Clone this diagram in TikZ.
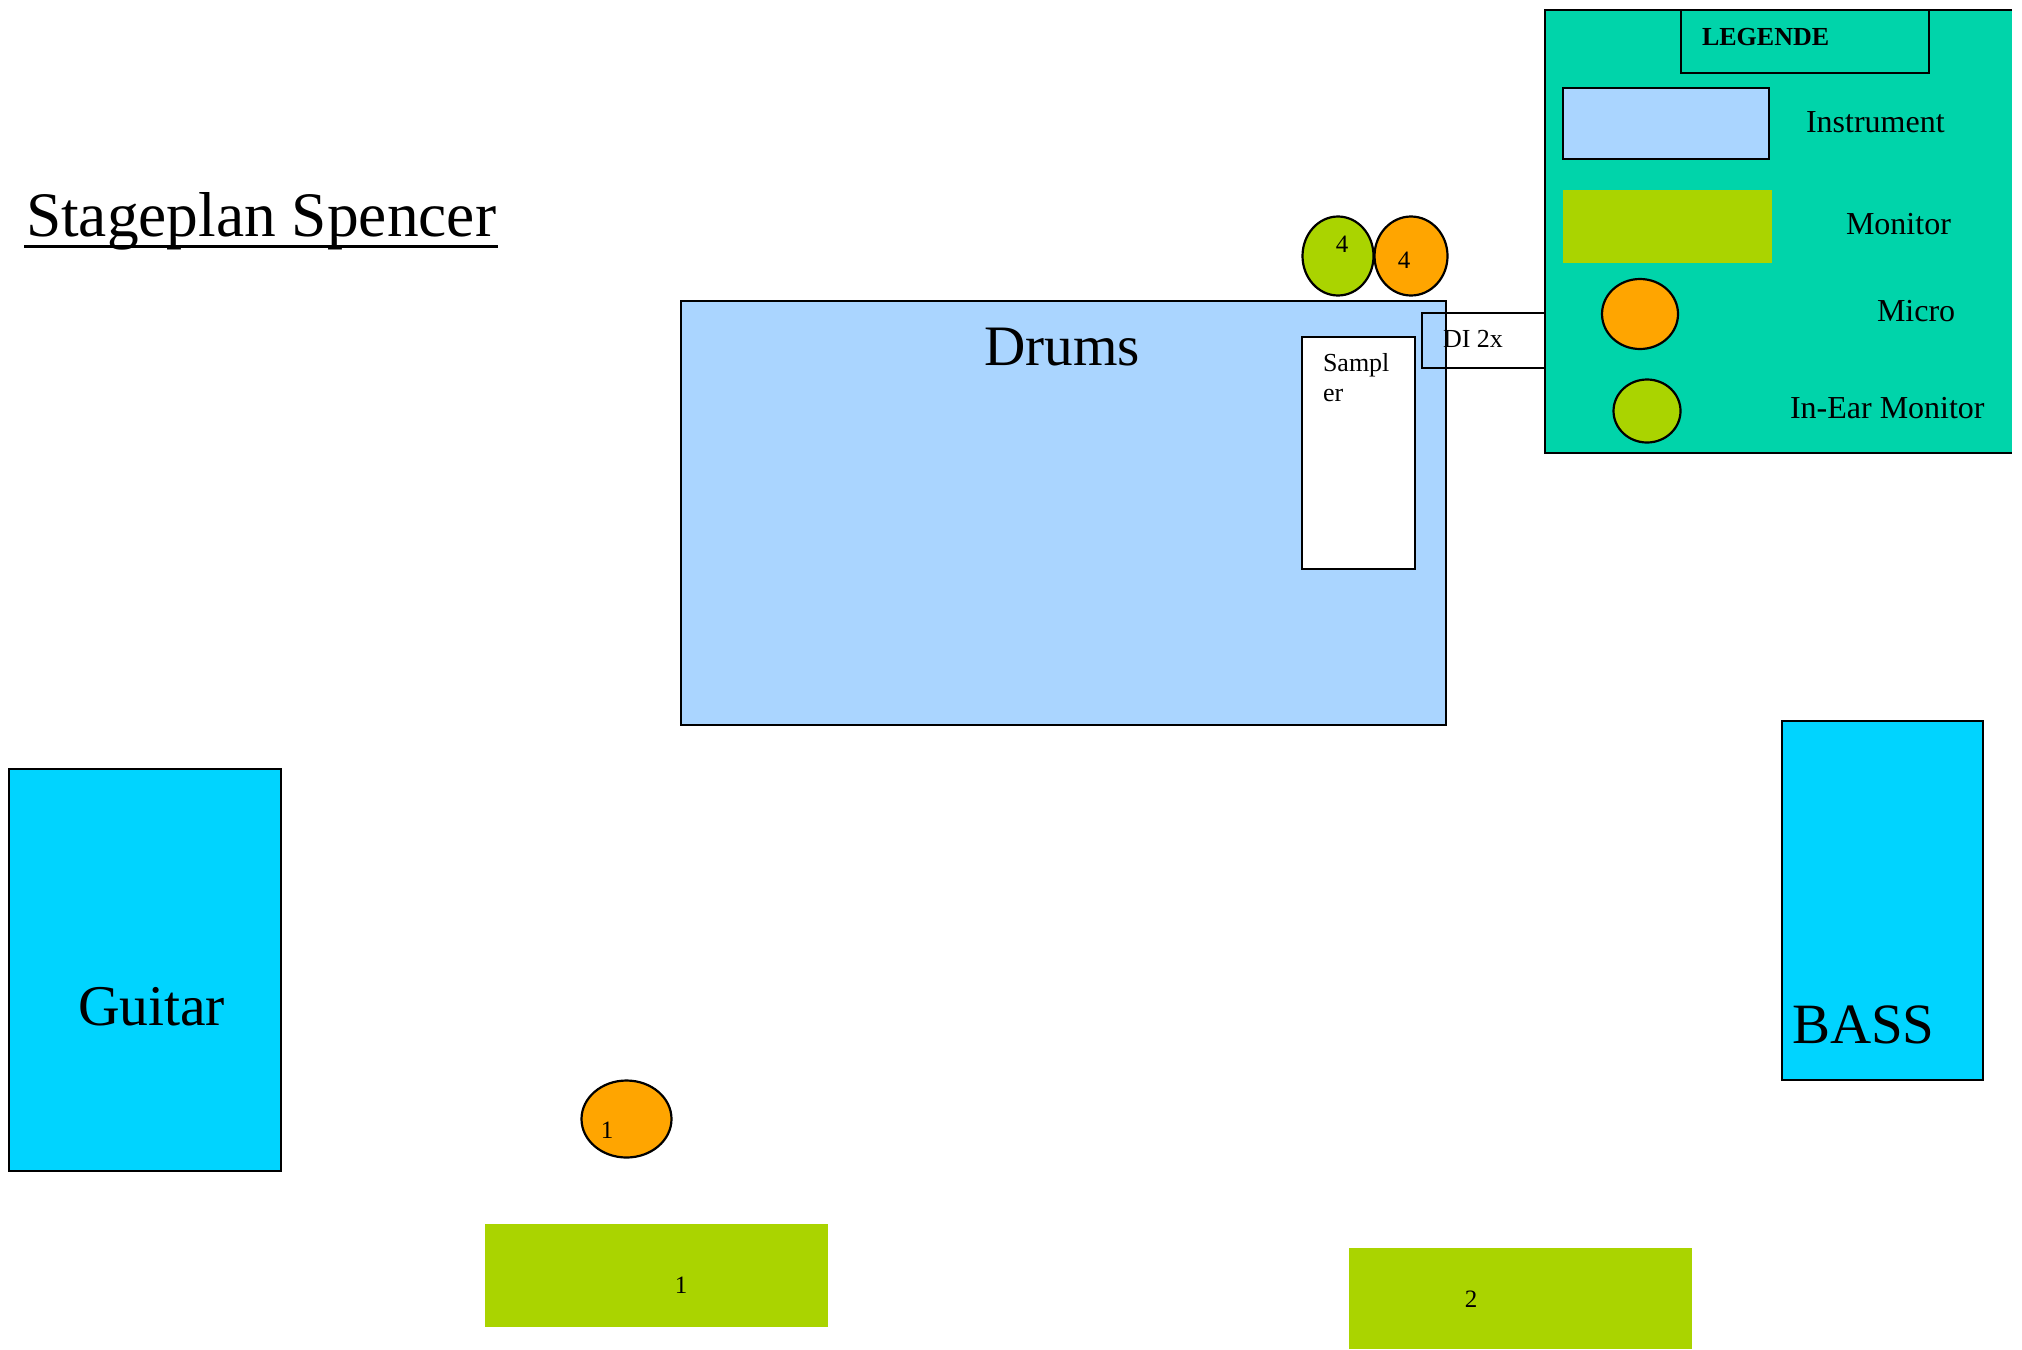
\documentclass[tikz,border=0pt]{standalone}
\usepackage{fontspec}
\setmainfont{Liberation Serif}
\usetikzlibrary{shapes.geometric}
\definecolor{instblue}{HTML}{AAD5FF}
\definecolor{mongreen}{HTML}{AAD400}
\definecolor{micorange}{HTML}{FFA500}
\definecolor{ampcyan}{HTML}{00D4FF}
\definecolor{legbg}{HTML}{00D4AA}
\begin{document}
\begin{tikzpicture}[x=0.5pt,y=-0.5pt,
  outl/.style={draw=black,line width=1.1pt},
  txt/.style={inner sep=0pt,outer sep=0pt,text=black},
  oval/.style={ellipse,draw=black,line width=1.1pt,inner sep=0pt},
  fs/.style={font=\fontsize{#1}{#1}\selectfont}]
\useasboundingbox (0,0) rectangle (2022,1349);
\fill[white] (0,0) rectangle (2022,1349);

% title
\node[txt,anchor=base west,fs=31.7] (title) at (26,236) {Stageplan Spencer};
\draw[line width=1.5pt] (24,246) -- (498,246);

% drums
\draw[outl,fill=instblue] (681,301) rectangle (1446,725);
\node[txt,anchor=base,fs=28.6] (drums) at (1062,365) {Drums};
\draw[outl,fill=white] (1302,337) rectangle (1415,569);
\node[txt,anchor=north west,align=left,font=\fontsize{13}{15}\selectfont] (sampler) at (1323,353) {Sampl\\er};
\draw[outl] (1422,313) rectangle (1545,368);
\node[txt,anchor=base west,fs=13] (di) at (1443,347) {DI 2x};

% in-ear and mic 4
\node[oval,fill=mongreen,minimum width=35.5pt,minimum height=39.5pt] (iem4) at (1338,256) {};
\node[oval,fill=micorange,minimum width=36.5pt,minimum height=39.5pt] (mic4) at (1411,256) {};
\node[txt,anchor=base,fs=12.5] (iem4t) at (1342,252) {4};
\node[txt,anchor=base,fs=12.5] (mic4t) at (1404,268) {4};

% guitar and bass
\draw[outl,fill=ampcyan] (9,769) rectangle (281,1171);
\node[txt,anchor=base west,fs=28.8] (guitar) at (78,1025) {Guitar};
\draw[outl,fill=ampcyan] (1782,721) rectangle (1983,1080);
\node[txt,anchor=base west,fs=28.5] (bass) at (1792,1043) {BASS};

% mic 1
\node[oval,fill=micorange,minimum width=45pt,minimum height=38.5pt] (mic1) at (626.5,1119) {};
\node[txt,anchor=base,fs=12.5] (mic1t) at (607,1138) {1};

% monitors
\fill[mongreen] (485,1224) rectangle (828,1327);
\node[txt,anchor=base,fs=12.5] (mon1) at (681,1293) {1};
\fill[mongreen] (1349,1248) rectangle (1692,1349);
\node[txt,anchor=base,fs=12.5] (mon2) at (1471,1307) {2};

% legend
\fill[legbg] (1545,10) rectangle (2012,453);
\draw[line width=1.1pt] (2012,10) -- (1545,10) -- (1545,453) -- (2012,453);
\draw[outl] (1681,10) rectangle (1929,73);
\node[txt,anchor=base west,font=\fontsize{13}{13}\selectfont\bfseries] (legende) at (1702,45) {LEGENDE};
\draw[outl,fill=instblue] (1563,88) rectangle (1769,159);
\node[txt,anchor=base west,fs=16] (instr) at (1806,132) {Instrument};
\fill[mongreen] (1563,190) rectangle (1772,263);
\node[txt,anchor=base west,fs=16] (monit) at (1846,234) {Monitor};
\node[oval,fill=micorange,minimum width=38pt,minimum height=35pt] (legmic) at (1640,314) {};
\node[txt,anchor=base west,fs=16] (micro) at (1877,321) {Micro};
\node[oval,fill=mongreen,minimum width=33.5pt,minimum height=31.5pt] (legiem) at (1647,411) {};
\node[txt,anchor=base west,fs=16] (inear) at (1790,418) {In-Ear Monitor};
\end{tikzpicture}
\end{document}
